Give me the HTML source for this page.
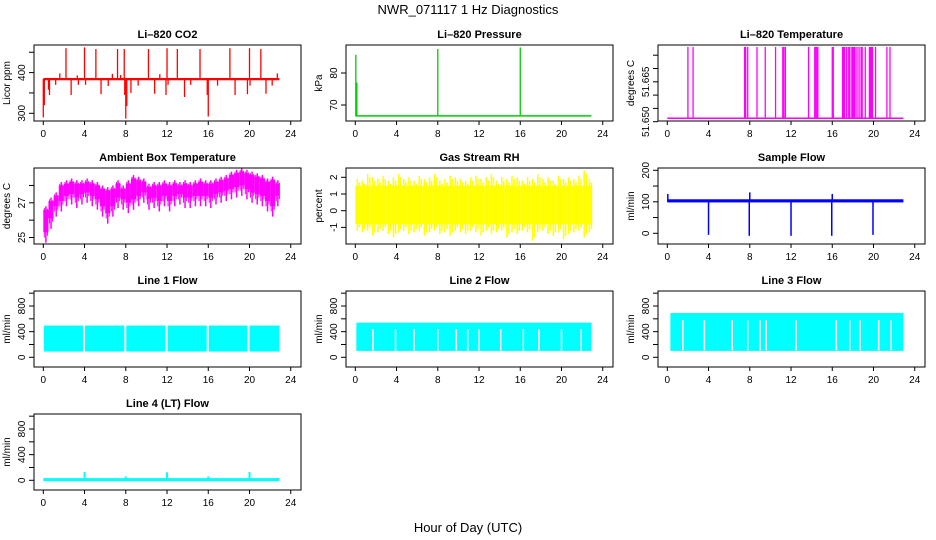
<!DOCTYPE html>
<html><head><meta charset="utf-8"><style>
html,body{margin:0;padding:0;background:#fff;}
svg{display:block;font-family:"Liberation Sans",Arial,sans-serif;}
</style></head><body>
<svg id="chart" width="936" height="540" viewBox="0 0 936 540" xmlns="http://www.w3.org/2000/svg">
<text x="468" y="14" text-anchor="middle" font-size="13">NWR_071117  1 Hz Diagnostics</text>
<text x="468" y="532" text-anchor="middle" font-size="13">Hour of Day (UTC)</text>
</svg>
<script>
// ---------- data ----------
const xTicks=[0,4,8,12,16,20,24];
const endHour=22.9;
// CO2
const co2Base=384;
const co2SpikeHours=[2.2,4.0,5.1,7.2,7.85,10.2,12.0,13.0,15.2,18.1,20.0,21.1,1.6,3.3,6.7,7.5,11.3,22.7,0.0,0.1,0.5,0.6,1.2,2.7,3.4,4.1,5.6,6.3,7.9,8.0,8.1,8.5,9.2,10.8,11.9,12.1,13.7,14.3,15.9,16.0,16.9,18.6,19.8,20.05,21.6,22.2];
const co2SpikeValues=[460,462,458,458,458,458,460,458,458,460,460,458,398,393,397,394,396,398,290,320,358,345,370,345,370,370,347,367,345,287,318,350,368,348,345,370,340,370,345,292,368,345,347,368,348,368];
// Pressure
const presBase=66.6;
const presSpikeHours=[0.05,0.15,8.0,16.0];
const presSpikeValues=[85.7,77,87.5,88];
// Li-820 temperature
const tempBase=51.6513;
const tempSpikeTop=51.6781;
const tempSpikeHours=[2.0,2.5,7.5,7.6,7.8,8.7,9.5,10.5,11.2,11.3,11.45,13.7,14.3,14.4,14.5,14.6,16.0,16.1,17.0,17.1,17.2,17.4,17.6,17.7,17.9,18.0,18.1,18.2,18.4,18.6,18.8,18.9,19.2,19.6,19.7,19.8,19.9,20.2,21.3,21.6];
const tempTickLabels=['51.650','51.665'];
// Ambient box temperature (half-hour bins)
const ambHi=[26.8,27.3,27.6,28.2,28.3,28.4,28.3,28.3,28.4,28.3,28.2,28.0,27.9,28.0,28.3,28.0,28.3,28.6,28.5,28.4,28.1,28.2,28.2,28.3,28.2,28.3,28.2,28.3,28.2,28.3,28.4,28.3,28.3,28.4,28.5,28.6,28.8,28.9,29.0,28.9,28.8,28.7,28.6,28.4,28.5,28.3];
const ambLo=[24.7,25.5,26.2,26.5,26.8,26.9,26.7,26.9,27.0,26.8,26.6,26.2,25.8,26.2,26.7,26.6,26.4,26.6,26.8,27.0,26.6,26.7,26.5,26.8,26.5,26.8,26.9,26.7,26.7,26.8,26.8,26.8,26.7,26.9,27.0,27.1,27.2,27.3,27.4,27.2,27.0,26.9,26.8,26.5,26.2,26.8];
// Gas stream RH (half-hour bins)
const rhHi=[1.9,1.8,2.2,2.0,1.9,2.1,1.8,2.0,2.2,1.9,2.0,1.8,2.1,1.9,2.0,2.2,1.8,1.9,2.1,2.0,1.9,1.8,2.0,2.1,1.9,2.0,2.2,1.8,2.0,1.9,2.1,2.0,1.8,2.0,1.9,2.2,1.9,2.0,1.8,2.1,1.9,2.0,1.9,2.1,2.4,1.9];
const rhLo=[-1.2,-1.3,-1.2,-1.5,-1.3,-1.2,-1.4,-1.6,-1.3,-1.2,-1.4,-1.3,-1.2,-1.5,-1.3,-1.2,-1.4,-1.3,-1.5,-1.2,-1.3,-1.4,-1.2,-1.3,-1.5,-1.2,-1.4,-1.3,-1.2,-1.6,-1.3,-1.4,-1.2,-1.3,-1.8,-1.3,-1.2,-1.4,-1.5,-1.3,-1.7,-1.4,-1.3,-1.2,-1.6,-1.3];
// Sample flow
const sfLo=98, sfHi=108;
const sfSpikeHours=[4.0,7.95,8.0,12.0,15.95,16.0,19.95,0.05];
const sfSpikeValues=[-5,-8,130,-8,-8,125,-5,125];
// Line flows
const l1Segments=[[0.05,3.85],[4.05,7.85],[8.05,11.85],[12.05,15.85],[16.05,19.8],[20.0,22.9]];
const l1Lo=90, l1Hi=495;
const l2Lo=100, l2Hi=540, l2Start=0.1;
const l2Gaps=[1.7,3.9,5.7,8.0,9.8,10.9,12.0,14.1,16.3,17.8,20.0,21.9];
const l3Lo=100, l3Hi=690, l3Start=0.3, l3GapTop=580;
const l3Gaps=[1.5,3.6,6.3,7.8,9.0,9.6,12.5,16.4,17.7,18.7,20.5,21.7];
const l4Base=10;
const l4SpikeHours=[4.0,8.0,12.0,16.0,20.0];
const l4SpikeValues=[130,60,125,60,130];

// ---------- layout ----------
const NS="http://www.w3.org/2000/svg";
const svg=document.getElementById('chart');
const COLS=[34,346,658], ROWS=[45,168,291,414], PW=267, PH=76;
function mk(tag,attrs,parent){const e=document.createElementNS(NS,tag);for(const k in attrs)e.setAttribute(k,attrs[k]);(parent||svg).appendChild(e);return e;}
function xScale(col){return h=>COLS[col]+9.3+h*10.31;}
function yScale(v0,y0,v1,y1){return v=>y0+(v-v0)*(y1-y0)/(v1-v0);}

function panel(name,title,ytitle,col,row,ys,yt,ylab){
  const g=mk('g',{});
  
  
  const L=COLS[col],T=ROWS[row],xs=xScale(col);
  const t=mk('text',{x:L+PW/2,y:T-7,'text-anchor':'middle','font-size':'11','font-weight':'bold'},g);
  t.textContent=title;
  
  
  const yt2=mk('text',{x:0,y:0,'text-anchor':'middle','font-size':'10',transform:`translate(${L-24},${T+PH/2}) rotate(-90)`},g);
  yt2.textContent=ytitle;
  
  
  const plot=mk('g',{},g);
  
  
  xTicks.forEach(h=>{
    mk('line',{x1:xs(h),x2:xs(h),y1:T+PH,y2:T+PH+4,stroke:'#000'},g);
    const tx=mk('text',{x:xs(h),y:T+PH+16,'text-anchor':'middle','font-size':'10'},g);
    tx.textContent=h;
    
    
  });
  yt.forEach(v=>{mk('line',{x1:L-5,x2:L,y1:ys(v),y2:ys(v),stroke:'#000'},g);});
  ylab.forEach(v=>{
    const tx=mk('text',{x:0,y:0,'text-anchor':'middle','font-size':'10',transform:`translate(${L-9},${ys(Number(v))}) rotate(-90)`},g);
    tx.textContent=v;
    
    
  });
  const box=mk('rect',{x:L,y:T,width:PW,height:PH,fill:'none',stroke:'#000'},g);
  
  
  return {plot,xs,ys};
}
function vline(p,h,a,b,c,w){mk('line',{x1:p.xs(h),x2:p.xs(h),y1:p.ys(a),y2:p.ys(b),stroke:c,'stroke-width':w||1.2},p.plot);}
function hline(p,h0,h1,v,c,w){mk('line',{x1:p.xs(h0),x2:p.xs(h1),y1:p.ys(v),y2:p.ys(v),stroke:c,'stroke-width':w||2},p.plot);}
function band(p,h0,h1,lo,hi,c){mk('rect',{x:p.xs(h0),y:p.ys(hi),width:p.xs(h1)-p.xs(h0),height:p.ys(lo)-p.ys(hi),fill:c},p.plot);}

// CO2
let p=panel('co2','Li\u2013820 CO2','Licor ppm',0,0,yScale(300,113.3,400,72.6),[300,350,400,450],[300,400]);
hline(p,0,endHour,co2Base,'#ff0000',2.2);
co2SpikeHours.forEach((h,i)=>vline(p,h,co2Base,co2SpikeValues[i],'#ff0000',1.3));
// Pressure
p=panel('pressure','Li\u2013820 Pressure','kPa',1,0,yScale(70,105,80,73),[70,80],[70,80]);
hline(p,0,endHour,presBase,'#00cc00',1.5);
presSpikeHours.forEach((h,i)=>vline(p,h,presBase,presSpikeValues[i],'#00cc00',1.3));
// Li temperature
p=panel('li-temp','Li\u2013820 Temperature','degrees C',2,0,yScale(51.650,121.7,51.655,108.4),[51.650,51.655,51.660,51.665,51.670,51.675],tempTickLabels);
hline(p,0,endHour,tempBase,'#ff00ff',1.5);
tempSpikeHours.forEach(h=>vline(p,h,tempBase,tempSpikeTop,'#ff00ff',1.3));
// Ambient
p=panel('ambient-temp','Ambient Box Temperature','degrees C',0,1,yScale(25,237.5,27,202.8),[25,26,27,28],[25,27]);
ambHi.forEach((v,i)=>{const h0=i*0.5,h1=Math.min(h0+0.5,endHour);band(p,h0,h1,ambLo[i]+0.6,v-0.2,'#ff00ff');vline(p,h0+0.25,ambLo[i],v,'#ff00ff',1.5);vline(p,h0+0.1,ambLo[i]+0.3,v-0.1,'#ff00ff',1);vline(p,h0+0.4,ambLo[i]+0.4,v-0.15,'#ff00ff',1);});
// RH
p=panel('rh','Gas Stream RH','percent',1,1,yScale(0,210.7,2,177.3),[-1,0,1,2],[-1,0,1,2]);
rhHi.forEach((v,i)=>{const h0=i*0.5,h1=Math.min(h0+0.5,endHour);band(p,h0,h1,-0.8,1.5,'#ffff00');vline(p,h0+0.2,rhLo[i],v,'#ffff00',1.5);vline(p,h0+0.4,rhLo[i]+0.2,v-0.2,'#ffff00',1.5);});
// Sample flow
p=panel('sample-flow','Sample Flow','ml/min',2,1,yScale(0,233.3,200,170.3),[0,50,100,150,200],[0,100,200]);
band(p,0,endHour,sfLo,sfHi,'#0000ff');
sfSpikeHours.forEach((h,i)=>vline(p,h,100,sfSpikeValues[i],'#0000ff',1.5));
// Line flows
const fy=r=>yScale(0,357.3+(r-2)*123,800,306+(r-2)*123);
const fTicks=[0,200,400,600,800,1000],fLab=[0,400,800];
p=panel('line1-flow','Line 1 Flow','ml/min',0,2,fy(2),fTicks,fLab);
l1Segments.forEach(s=>band(p,s[0],s[1],l1Lo,l1Hi,'#00ffff'));
p=panel('line2-flow','Line 2 Flow','ml/min',1,2,fy(2),fTicks,fLab);
band(p,l2Start,endHour,l2Lo,l2Hi,'#00ffff');
l2Gaps.forEach(h=>vline(p,h,l2Lo+5,l2Hi-100,'#ffffff',1.5));
p=panel('line3-flow','Line 3 Flow','ml/min',2,2,fy(2),fTicks,fLab);
band(p,l3Start,endHour,l3Lo,l3Hi,'#00ffff');
l3Gaps.forEach(h=>vline(p,h,l3Lo+10,l3GapTop,'#ffffff',1.5));
p=panel('line4-flow','Line 4 (LT) Flow','ml/min',0,3,fy(3),fTicks,fLab);
hline(p,0,endHour,l4Base,'#00ffff',3);
l4SpikeHours.forEach((h,i)=>vline(p,h,l4Base,l4SpikeValues[i],'#00ffff',2));
</script>
</body></html>
